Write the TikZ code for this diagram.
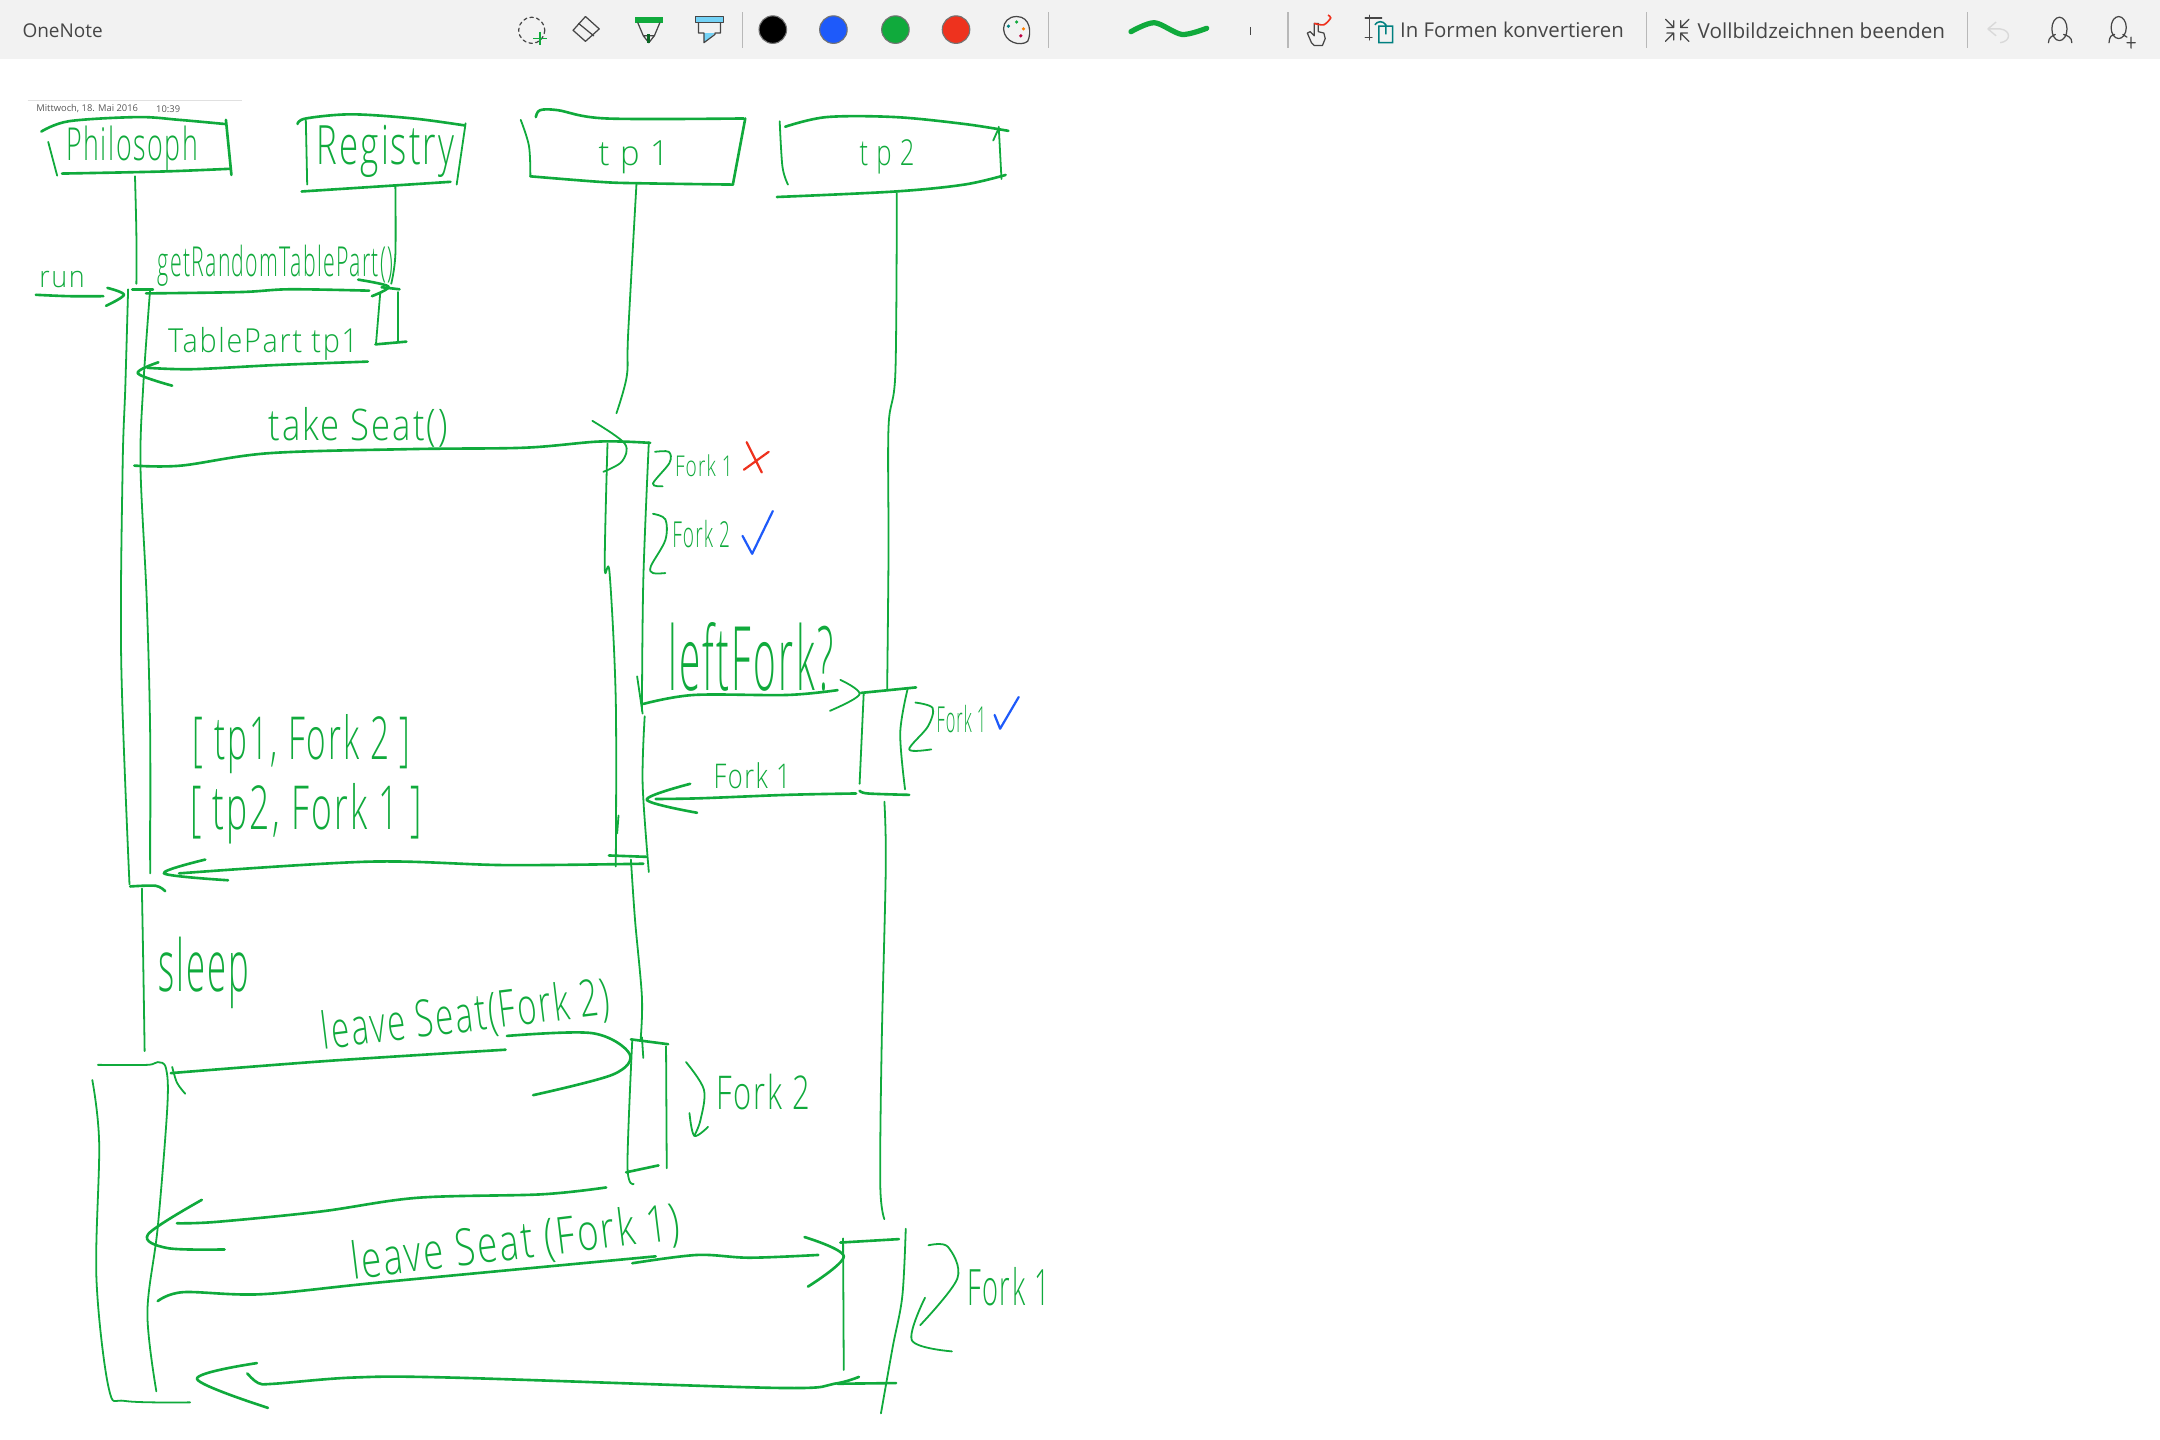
\documentclass[tikz,border=0pt]{standalone}
\usepackage{graphicx}
\usepackage{fontspec}
\setmainfont[LetterSpace=6]{Open Sans Light}
\newfontfamily\uifont{Open Sans}
\definecolor{inkgreen}{RGB}{16,170,60}
\definecolor{inkblue}{RGB}{30,90,250}
\definecolor{inkred}{RGB}{238,50,30}
\definecolor{barbg}{RGB}{242,242,242}
\definecolor{uigray}{RGB}{70,70,70}
\newcommand{\handtext}[3]{\resizebox*{#1pt}{#2pt}{#3}}
\newcommand{\stroke}[2][ink]{\draw[#1] plot[smooth,tension=.55] coordinates {#2};}
\tikzset{
  ink/.style={draw=inkgreen, line width=.95pt, line cap=round, line join=round},
  thinink/.style={draw=inkgreen, line width=.65pt, line cap=round, line join=round},
  hand/.style={text=inkgreen, inner sep=0pt, outer sep=0pt},
  uitext/.style={text=uigray, inner sep=0pt, font=\uifont\fontsize{7.4pt}{9pt}\selectfont},
  uiline/.style={draw=uigray, line width=.45pt, line cap=round, line join=round},
  sep/.style={draw=black!28, line width=.45pt},
  swatch/.style={circle, minimum size=10pt, inner sep=0pt, draw=black!55, line width=.4pt}
}
\begin{document}
\begin{tikzpicture}[x=.5pt, y=-.5pt]
  \useasboundingbox (0,0) rectangle (1568,1045.33);
  \fill[white] (0,0) rectangle (1568,1045.33);

  % toolbar
  \fill[barbg] (0,0) rectangle (1568,43);
  \node[uitext, font=\uifont\fontsize{6.9pt}{9pt}\selectfont] (appname) at (45.5,22) {OneNote};
  \draw[uiline, dashed, dash pattern=on 1.2pt off 1.2pt] (386,22) circle (9.5);
  \draw[draw=inkgreen, line width=.6pt] (387,28) -- (397,28) (392,23) -- (392,33);
  \draw[uiline] (425,12) -- (435,21) -- (425,30) -- (416,22) -- cycle (420,17) -- (431,26);
  \fill[inkgreen] (461,12) rectangle (481,16.5);
  \draw[uiline] (463,16.5) -- (467,26) -- (471,31) -- (475,26) -- (479,16.5) (467,26) -- (475,26);
  \draw[draw=inkgreen!60!black, line width=1pt] (471,25) -- (471,31);
  \fill[cyan!55] (505,12) rectangle (525,16.5);
  \fill[cyan!55] (511,24) -- (519,24) -- (511,31) -- cycle;
  \draw[uiline] (505,12) rectangle (525,16.5);
  \draw[uiline] (507,16.5) -- (507,24) -- (511,24) -- (511,31) -- (519,25) -- (519,24) -- (523,24) -- (523,16.5);
  \draw[sep] (539,9) -- (539,35);
  \node[swatch, fill=black] (swblack) at (561,21.5) {};
  \node[swatch, fill=inkblue] (swblue) at (605,21.5) {};
  \node[swatch, fill=inkgreen] (swgreen) at (650,21.5) {};
  \node[swatch, fill=inkred] (swred) at (694,21.5) {};
  \draw[uiline] (738,12) .. controls (748,12) and (749,24) .. (746,30) .. controls (741,34) and (729,31) .. (728.5,21) .. controls (728.5,16) and (732,12) .. (738,12);
  \fill[teal] (732,19) circle (1.3);
  \fill[inkgreen] (738,16) circle (1.3);
  \fill[orange] (743,21) circle (1.3);
  \fill[purple] (741,26) circle (1.3);
  \draw[sep] (761,9) -- (761,35);
  \draw[draw=inkgreen, line width=1.9pt, line cap=round] plot[smooth] coordinates {(821,23) (838,16.5) (858,25) (876,20.5)};
  \draw[draw=uigray, line width=.4pt] (908,19.5) -- (908,25.5);
  \draw[sep] (935,9) -- (935,35);
  \draw[uiline] (952,31) -- (949,24) -- (951,23) -- (954,26) -- (954,17) -- (957,17) -- (957,23) -- (961,24) -- (962,28) -- (960,33) -- (954,33) -- cycle;
  \draw[draw=inkred, line width=.6pt] plot[smooth] coordinates {(954,17) (961,18) (966,13) (964,11)};
  \draw[uiline] (991,13) -- (1003,13) (994,11) -- (994,29) (991,27) -- (996,27);
  \draw[draw=teal, line width=.55pt] (1001,19) rectangle (1011,31) (998,18) .. controls (1000,15) and (1004,15) .. (1006,18) -- (1006,25);
  \node[uitext, anchor=west] (convert) at (1016,22) {In Formen konvertieren};
  \draw[sep] (1195,9) -- (1195,35);
  \draw[uiline] (1209,14) -- (1215,20) (1215,15) -- (1215,20) -- (1210,20) (1226,14) -- (1220,20) (1220,15) -- (1220,20) -- (1225,20);
  \draw[uiline] (1209,30) -- (1215,24) (1215,29) -- (1215,24) -- (1210,24) (1226,30) -- (1220,24) (1220,29) -- (1220,24) -- (1225,24);
  \node[uitext, anchor=west, font=\uifont\fontsize{7.5pt}{9pt}\selectfont] (leavefull) at (1232,22) {Vollbildzeichnen beenden};
  \draw[sep] (1428,9) -- (1428,35);
  \draw[draw=black!15, line width=.5pt] (1443,21) -- (1449,16) (1443,21) -- (1449,26) (1443,21) -- (1452,21) .. controls (1460,22) and (1460,30) .. (1452,31);
  \draw[uiline] (1495,21) ellipse (5.5 and 8.5) (1487,31) .. controls (1487,27) and (1490,26) .. (1492,25) (1504,31) .. controls (1504,27) and (1501,26) .. (1498,25);
  \draw[uiline] (1538,20) ellipse (5.5 and 8) (1531,31) .. controls (1531,27) and (1533,25) .. (1535,25) (1541,25) -- (1544,27) (1544,31) -- (1550,31) (1547,27) -- (1547,35);

  % page header
  \draw[draw=black!12, line width=.5pt] (20,73) -- (176,73);
  \node[text=black!65, inner sep=0pt, font=\uifont\fontsize{3.4pt}{4pt}\selectfont, anchor=west] (pagedate) at (26,79) {Mittwoch, 18. Mai 2016};
  \node[text=black!65, inner sep=0pt, font=\uifont\fontsize{3.4pt}{4pt}\selectfont, anchor=west] (pagetime) at (113,79) {10:39};

  % headers
  \node[hand] (philosoph) at (96,108) {\handtext{48}{16.5}{Philosoph}};
  \node[hand] (registry) at (280,110) {\handtext{50}{19}{Registry}};
  \node[hand] (tpone) at (460,114) {\handtext{25.5}{12}{t p 1}};
  \node[hand] (tptwo) at (644,114) {\handtext{20}{12.5}{t p 2}};
  \stroke{(30,95.5) (50,88) (100,85) (130,87) (163,90)}
  \stroke{(164,87) (168,127)}
  \stroke{(45,126) (118,124.5) (167.5,122.5)}
  \stroke[thinink]{(35,103) (41.5,127.5)}
  \stroke{(216,90) (222,86) (255,83) (300,86) (337,91)}
  \stroke[thinink]{(338,89.5) (331.5,134)}
  \stroke{(219,139) (327,132)}
  \stroke[thinink]{(222,87) (223,134)}
  \stroke{(389,85) (392,80) (405,80) (440,86) (540,86)}
  \stroke{(541,86) (532,134)}
  \stroke{(385,128) (435,132) (462,133) (532,134)}
  \stroke[thinink]{(378,87) (384,106) (385,128)}
  \stroke{(570,92) (600,85) (650,85) (700,90) (732,95)}
  \stroke[thinink]{(725,92) (727,130)}
  \stroke[thinink]{(721,102) (725,93)}
  \stroke{(564,143) (650,139) (700,134) (730,127)}
  \stroke[thinink]{(566,88) (568,121) (572,134)}

  % anchors of the lifelines
  \coordinate (philtop) at (98,128);
  \coordinate (philbar) at (99,206);
  \coordinate (regtop) at (287,135);
  \coordinate (regbar) at (284,206);
  \coordinate (onetop) at (462,134);
  \coordinate (onebar) at (447.5,300);
  \coordinate (twotop) at (651,140);
  \coordinate (twobar) at (644,501);
  \stroke[thinink]{(philtop) (99,170) (philbar)}
  \stroke[thinink]{(regtop) (287,185) (regbar)}
  \stroke[thinink]{(onetop) (456,242) (455,273) (onebar)}
  \stroke[thinink]{(twotop) (650,270) (645,310) (645,400) (twobar)}

  % run
  \node[hand] (run) at (45,203) {\handtext{16.5}{6}{run}};
  \stroke{(26,214) (50,215) (75,215)}
  \stroke{(78,209) (90,214) (77,222)}

  % philosoph bar, first
  \stroke[thinink]{(93,210) (91,280) (89,340) (88,480) (94,642)}
  \stroke[thinink]{(109,210) (104,280) (102,339) (106.5,435) (109,532) (109,634)}
  \stroke{(96,210) (111,210)}
  \stroke{(94.5,643.5) (113,643) (120,647)}
  \stroke[thinink]{(109,596) (109,624)}

  % getRandomTablePart
  \node[hand] (getpart) at (200,193) {\handtext{85.5}{15}{getRandomTablePart()}};
  \coordinate (getfrom) at (106,213);
  \coordinate (getto) at (268,211);
  \stroke{(getfrom) (175,212) (210,210) (getto)}
  \stroke{(260,203) (282,208) (270,215)}
  \stroke{(277,208.5) (290,210)}
  \stroke[thinink]{(289,212) (289,248)}
  \stroke[thinink]{(276,213) (273,249)}
  \stroke{(272.5,250) (295,248)}
  \node[hand] (tablepart) at (191,250) {\handtext{69}{12}{TablePart tp1}};
  \coordinate (partfrom) at (267,262.5);
  \coordinate (partto) at (107,267);
  \stroke{(partfrom) (200,265) (140,268) (partto)}
  \stroke{(115,263) (100,271) (125,280)}

  % takeSeat
  \node[hand] (takeseat) at (260,310) {\handtext{65}{14.5}{take Seat()}};
  \coordinate (takefrom) at (97.5,338);
  \coordinate (taketo) at (472,321.5);
  \stroke{(takefrom) (131.5,338) (195,329) (299,326) (381,325) (435.5,320.5) (taketo)}
  \stroke[thinink]{(430,305.5) (453.5,322) (451.5,335) (438,342.5)}

  % tp 1 bar, first
  \stroke[thinink]{(441,322) (439,411.5) (442.5,416) (447,508) (447,629)}
  \stroke[thinink]{(471,321) (467,421) (466,516)}
  \stroke[thinink]{(468,520) (466.5,569) (471,633)}
  \stroke[thinink]{(462.5,491) (466.5,518)}
  \stroke[thinink]{(449,592) (448,605)}
  \stroke{(442,621) (469.5,622)}

  % forks asked by tp 1
  \stroke[thinink]{(475.5,328) (485.5,328) (486,336) (474,351) (481,353)}
  \node[hand] (forkonea) at (511,338) {\handtext{21}{8}{Fork 1}};
  \draw[draw=inkred, line width=.8pt, line cap=round] (542,321) -- (553,343) (540,341) -- (558,328);
  \stroke[thinink]{(474,373) (483,377) (483,392) (472.5,411) (474,416) (483,416)}
  \node[hand] (forktwoa) at (509,388) {\handtext{21}{10}{Fork 2}};
  \draw[draw=inkblue, line width=.8pt, line cap=round, line join=round] (539,389) -- (546,402) -- (561,371);

  % leftFork
  \node[hand] (leftfork) at (545,477) {\handtext{60}{25}{leftFork?}};
  \coordinate (leftfrom) at (467,511);
  \coordinate (leftto) at (608,501);
  \stroke{(leftfrom) (503.5,504.5) (571.5,504.5) (leftto)}
  \stroke[thinink]{(610,493.5) (624,504) (602.5,516)}
  \stroke{(625,503) (665,499)}
  \stroke[thinink]{(627,503) (624,569)}
  \stroke[thinink]{(659,499.5) (653.5,532) (657,573)}
  \stroke{(624,574) (630,576) (660,577)}
  \stroke[thinink]{(664.5,510) (677,514) (673.5,527.5) (660,544) (676,544)}
  \node[hand] (forkoneb) at (698,522) {\handtext{18}{10}{Fork 1}};
  \draw[draw=inkblue, line width=.8pt, line cap=round, line join=round] (722,519) -- (726,529) -- (739.5,506);

  % answer of tp 2
  \node[hand] (forkonec) at (546,563) {\handtext{28}{9.5}{Fork 1}};
  \coordinate (ansfrom) at (621.5,576);
  \coordinate (ansto) at (476,580);
  \stroke{(ansfrom) (571.5,577) (508,579.5) (ansto)}
  \stroke{(501,569) (469.5,580.5) (506,590)}

  % the seats
  \node[hand] (seatone) at (219,540) {\handtext{79}{21.5}{[ tp1, Fork 2 ]}};
  \node[hand] (seattwo) at (222,591) {\handtext{84}{22}{[ tp2, Fork 1 ]}};
  \coordinate (seatfrom) at (467,627);
  \coordinate (seatto) at (130,634);
  \stroke{(seatfrom) (367,628) (267.5,625.5) (seatto)}
  \stroke{(149,624) (119,634) (165.5,639)}

  % lifelines, second part
  \stroke[thinink]{(103,645) (104,700) (105,763)}
  \stroke[thinink]{(458,624) (461,668) (466,724) (465,755)}
  \stroke[thinink]{(642,582) (643,630) (640,760) (639,860) (642,885)}
  \node[hand] (sleep) at (148,706) {\handtext{33}{26}{sleep}};

  % leaveSeat, Fork 2
  \node[hand, rotate=7] (leavetwo) at (338,738) {\handtext{105}{17}{leave Seat(Fork 2)}};
  \coordinate (twofrom) at (124,779);
  \coordinate (twoto) at (367,762);
  \stroke{(twofrom) (240,770) (twoto)}
  \stroke{(368,752) (430,750) (457,765) (445,780) (387,795)}
  \stroke[thinink]{(71,773) (107,773) (114.5,771) (120.5,775.5) (121.5,803) (114.5,891) (107,953) (113.5,1010)}
  \stroke[thinink]{(125,774.5) (128.5,786) (134.5,794)}
  \stroke[thinink]{(67,784) (72,830) (70,928) (79,1008) (91,1017) (138,1018)}
  \stroke{(458,754.5) (485,758)}
  \stroke[thinink]{(459,754.5) (455.5,846) (460,859.5)}
  \stroke[thinink]{(466,753) (467,768)}
  \stroke[thinink]{(483.5,759.5) (484,848)}
  \stroke{(454.5,851) (478,846)}
  \stroke[thinink]{(498,771) (511,791) (508.5,813) (504,824.5)}
  \stroke[thinink]{(500.5,808) (504,824.5) (514,818)}
  \node[hand] (forktwob) at (554,793) {\handtext{34}{13}{Fork 2}};
  \coordinate (backfrom) at (440,862);
  \coordinate (backto) at (128.5,888);
  \stroke{(backfrom) (393,867) (303,869.5) (232.5,879.5) (157,887) (backto)}
  \stroke{(146.5,871) (107.5,896) (121.5,906) (163,907)}

  % leaveSeat, Fork 1
  \node[hand, rotate=7] (leaveone) at (374,903) {\handtext{120}{17}{leave Seat (Fork 1)}};
  \coordinate (onefrom) at (114.5,944.5);
  \stroke{(onefrom) (133,938) (190,939.5) (280,930.5) (476,912)}
  \coordinate (oneto) at (594,911);
  \stroke{(459,917) (506,911) (544,913) (oneto)}
  \stroke{(584,898) (612.5,912) (586.5,934)}
  \stroke{(610,902) (652.5,899.5)}
  \stroke[thinink]{(612,899) (612.5,994.5)}
  \stroke[thinink]{(657.5,892) (655,941) (648,978) (639.5,1026)}
  \stroke{(608,1004.5) (650.5,1004)}
  \stroke[thinink]{(674,904) (688,905) (695,928) (668,962)}
  \stroke[thinink]{(671.5,942) (662,973) (691,981)}
  \node[hand] (forkoned) at (732,934) {\handtext{30}{14}{Fork 1}};
  \coordinate (lastfrom) at (623.5,999.5);
  \coordinate (lastto) at (179.5,997);
  \stroke{(lastfrom) (605.5,1004.5) (563,1007.5) (327,1000) (256,1000) (199,1004.5) (187.5,1004) (lastto)}
  \stroke{(186.5,989.5) (143,1001) (194.5,1022)}
\end{tikzpicture}
\end{document}
